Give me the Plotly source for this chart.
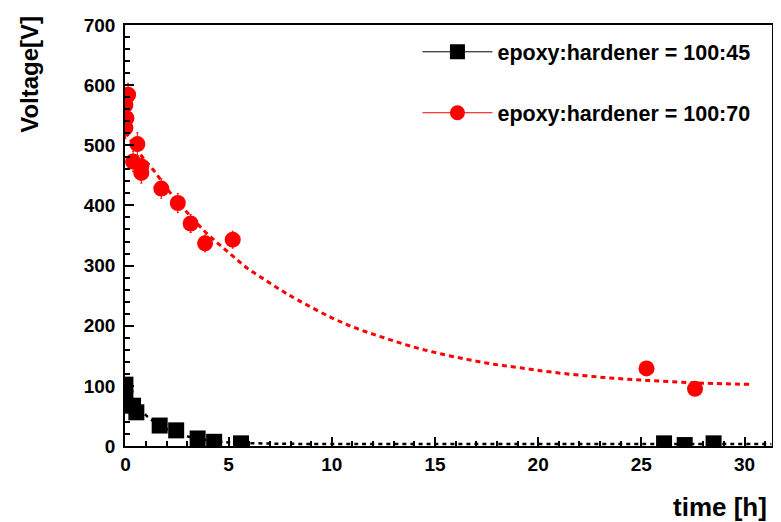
import plotly.graph_objects as go

# ---- data ----
t_4570 = [0.13, 0.0, 0.05, 0.0, 0.58, 0.37, 0.77, 0.77, 1.74, 2.54, 3.16, 3.86, 5.2, 25.25, 27.6]
v_4570 = [584, 567, 545, 529, 502, 473, 465, 454, 428, 404, 370, 337, 343, 129, 95]
e_4570 = [19, 18, 18, 18, 19, 17, 17, 17, 16, 16, 15, 14, 14, 6, 5]

t_4545 = [0.0, 0.0, 0.37, 0.53, 1.66, 2.46, 3.5, 4.3, 5.6, 26.1, 27.1, 28.5]
v_4545 = [102, 80, 67, 56, 34, 26, 12.5, 7, 4.4, 4.4, 1.6, 4.4]

fit_red_t = [0, 0.77, 1.42, 2.22, 3.0, 3.75, 4.48, 5.2, 5.93, 6.73, 7.54, 8.34, 9.95, 11.24,
             12.53, 13.82, 15.18, 16.55, 17.84, 19.13, 20.74, 23.16, 25.57, 27.98, 30.24]
fit_red_v = [522, 483, 456, 419, 388, 360, 337, 316, 295, 277, 259, 243, 214, 195,
             180, 166, 154, 144, 136, 130, 122.5, 114, 108.5, 104.5, 102.5]

fit_blk_t = [0, 0.5, 1.0, 1.5, 2.0, 2.5, 3.0, 3.5, 4.0, 4.5, 5.0, 6.0, 7.0, 8.0, 10.0, 15.0, 20.0, 25.0, 31.3]
fit_blk_v = [95, 70, 51, 38, 28, 21, 16, 12, 9.5, 7.5, 6.0, 4.8, 4.0, 3.6, 3.3, 3.2, 3.2, 3.2, 3.2]

label_45 = "epoxy:hardener = 100:45"
label_70 = "epoxy:hardener = 100:70"

FONT = "Liberation Sans"

fig = go.Figure()

# fit curves
fig.add_trace(go.Scatter(x=fit_red_t, y=fit_red_v, mode="lines", line_shape="spline",
                         line=dict(color="#ff0000", width=3, dash="5px,4px"),
                         showlegend=False, hoverinfo="skip"))
fig.add_trace(go.Scatter(x=fit_blk_t, y=fit_blk_v, mode="lines", line_shape="spline",
                         line=dict(color="black", width=2.5, dash="4px,4px"),
                         showlegend=False, hoverinfo="skip"))

# data
fig.add_trace(go.Scatter(x=t_4545, y=v_4545, mode="markers",
                         marker=dict(symbol="square", size=16, color="black"),
                         showlegend=False))
fig.add_trace(go.Scatter(x=t_4570, y=v_4570, mode="markers",
                         marker=dict(symbol="circle", size=16, color="#ff0000"),
                         error_y=dict(type="data", array=e_4570, color="#ff0000", thickness=1, width=1),
                         showlegend=False))

# legend entries
fig.add_trace(go.Scatter(x=[None], y=[None], mode="lines+markers", name=label_45,
                         line=dict(color="black", width=1),
                         marker=dict(symbol="square", size=15, color="black"),
                         legendgroup="a"))
fig.add_trace(go.Scatter(x=[None], y=[None], mode="lines+markers", name=label_70,
                         line=dict(color="#ff0000", width=1),
                         marker=dict(symbol="circle", size=15, color="#ff0000"),
                         legendgroup="b"))

axis_common = dict(showgrid=False, zeroline=False, showline=True, linecolor="black", linewidth=1.5,
                   mirror=True, ticks="inside", tickcolor="black", tickwidth=1.5,
                   ticklabeloverflow="allow",
                   tickfont=dict(family=FONT, size=19, color="black", weight="bold"))

fig.update_xaxes(range=[-0.02, 31.33], tickmode="linear", tick0=0, dtick=5, ticklen=9,
                 minor=dict(dtick=1, ticks="inside", ticklen=5, tickcolor="black", tickwidth=1.5),
                 **axis_common)
fig.update_yaxes(range=[0, 700], tickmode="linear", tick0=0, dtick=100, ticklen=9,
                 minor=dict(dtick=20, ticks="inside", ticklen=5, tickcolor="black", tickwidth=1.5),
                 ticklabelstandoff=4,
                 **axis_common)

fig.add_annotation(text="Voltage[V]", xref="paper", yref="paper", x=-0.148, y=1.026,
                   xanchor="center", yanchor="top", textangle=-90, showarrow=False,
                   font=dict(family=FONT, size=24, color="black", weight="bold"))
fig.add_annotation(text="time [h]", xref="paper", yref="paper", x=0.995, y=-0.146,
                   xanchor="right", yanchor="middle", showarrow=False,
                   font=dict(family=FONT, size=26, color="black", weight="bold"))

# page body has an 8px margin, so the figure is shrunk by 8px and margins shifted
fig.update_layout(
    width=773, height=514,
    margin=dict(l=117, r=8, t=7, b=76),
    paper_bgcolor="white", plot_bgcolor="white",
    legend=dict(x=0.452, y=0.985, xanchor="left", yanchor="top", bgcolor="rgba(0,0,0,0)",
                traceorder="grouped", tracegroupgap=30, itemwidth=70,
                font=dict(family=FONT, size=21.5, color="black", weight="bold")),
)

fig.write_html("out.html")
